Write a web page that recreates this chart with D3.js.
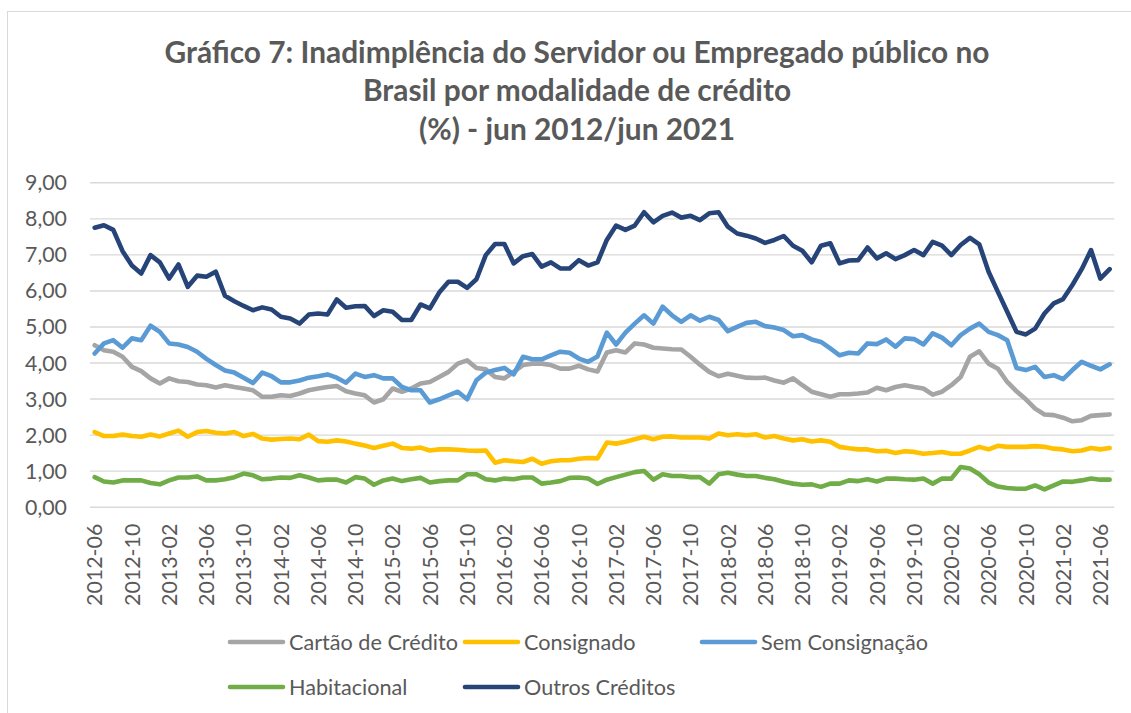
<!DOCTYPE html>
<html><head><meta charset="utf-8">
<script src="https://cdn.jsdelivr.net/npm/d3@7"></script>
<style>body{margin:0;background:#fff}svg{display:block}</style>
</head><body><svg id="c" width="1131" height="713"></svg>
<script>
const categories = [
"2012-06","2012-07","2012-08","2012-09","2012-10","2012-11","2012-12",
"2013-01","2013-02","2013-03","2013-04","2013-05","2013-06","2013-07","2013-08","2013-09","2013-10","2013-11","2013-12",
"2014-01","2014-02","2014-03","2014-04","2014-05","2014-06","2014-07","2014-08","2014-09","2014-10","2014-11","2014-12",
"2015-01","2015-02","2015-03","2015-04","2015-05","2015-06","2015-07","2015-08","2015-09","2015-10","2015-11","2015-12",
"2016-01","2016-02","2016-03","2016-04","2016-05","2016-06","2016-07","2016-08","2016-09","2016-10","2016-11","2016-12",
"2017-01","2017-02","2017-03","2017-04","2017-05","2017-06","2017-07","2017-08","2017-09","2017-10","2017-11","2017-12",
"2018-01","2018-02","2018-03","2018-04","2018-05","2018-06","2018-07","2018-08","2018-09","2018-10","2018-11","2018-12",
"2019-01","2019-02","2019-03","2019-04","2019-05","2019-06","2019-07","2019-08","2019-09","2019-10","2019-11","2019-12",
"2020-01","2020-02","2020-03","2020-04","2020-05","2020-06","2020-07","2020-08","2020-09","2020-10","2020-11","2020-12",
"2021-01","2021-02","2021-03","2021-04","2021-05","2021-06","2021-07"];

const tickLabels = ["2012-06","2012-10","2013-02","2013-06","2013-10","2014-02","2014-06","2014-10",
"2015-02","2015-06","2015-10","2016-02","2016-06","2016-10","2017-02","2017-06","2017-10","2018-02",
"2018-06","2018-10","2019-02","2019-06","2019-10","2020-02","2020-06","2020-10","2021-02","2021-06"];

const yTicks = [0,1,2,3,4,5,6,7,8,9];

const titleLines = ["Gráfico 7: Inadimplência do Servidor ou Empregado público no",
"Brasil por modalidade de crédito","(%) - jun 2012/jun 2021"];

const seriesNames = ["Cartão de Crédito","Consignado","Sem Consignação","Habitacional","Outros Créditos"];

const cartao = [4.48,4.34,4.30,4.16,3.88,3.76,3.56,3.42,3.56,3.48,3.46,3.39,3.37,3.31,3.37,3.32,3.28,3.23,3.05,3.05,
3.09,3.07,3.14,3.23,3.28,3.32,3.35,3.20,3.14,3.09,2.89,2.98,3.28,3.19,3.28,3.42,3.46,3.60,3.74,3.97,
4.06,3.85,3.81,3.60,3.56,3.74,3.93,3.97,3.97,3.93,3.83,3.83,3.91,3.81,3.75,4.28,4.34,4.28,4.53,4.50,
4.41,4.39,4.37,4.36,4.16,3.94,3.74,3.62,3.69,3.63,3.58,3.57,3.58,3.50,3.44,3.56,3.37,3.19,3.12,3.05,
3.12,3.12,3.14,3.17,3.30,3.23,3.32,3.37,3.32,3.28,3.11,3.19,3.37,3.60,4.16,4.31,3.97,3.83,3.46,3.20,
2.98,2.72,2.56,2.54,2.47,2.37,2.40,2.52,2.54,2.56];

const consignado = [2.07,1.96,1.96,2.00,1.96,1.94,2.00,1.95,2.03,2.11,1.94,2.07,2.10,2.05,2.03,2.07,1.96,2.02,1.89,1.86,
1.88,1.89,1.87,2.00,1.82,1.80,1.84,1.81,1.75,1.70,1.63,1.69,1.75,1.63,1.61,1.64,1.56,1.59,1.59,1.58,
1.56,1.55,1.56,1.22,1.29,1.26,1.24,1.33,1.19,1.26,1.29,1.29,1.33,1.35,1.34,1.78,1.75,1.80,1.87,1.94,
1.87,1.94,1.95,1.92,1.92,1.92,1.89,2.03,1.98,2.01,1.98,2.01,1.92,1.96,1.89,1.84,1.87,1.81,1.84,1.80,
1.66,1.62,1.59,1.59,1.54,1.55,1.49,1.54,1.52,1.47,1.49,1.52,1.47,1.47,1.56,1.66,1.59,1.69,1.66,1.66,
1.66,1.68,1.66,1.61,1.59,1.54,1.56,1.63,1.59,1.63];

const semConsignacao = [4.25,4.53,4.62,4.41,4.67,4.62,5.02,4.85,4.53,4.50,4.43,4.30,4.10,3.93,3.78,3.72,3.58,3.43,3.72,3.62,
3.45,3.45,3.50,3.58,3.62,3.67,3.58,3.44,3.69,3.60,3.65,3.56,3.56,3.32,3.23,3.23,2.89,2.98,3.09,3.19,
2.98,3.51,3.72,3.79,3.85,3.67,4.16,4.09,4.09,4.20,4.30,4.27,4.11,4.02,4.17,4.83,4.50,4.83,5.08,5.31,
5.08,5.55,5.31,5.13,5.31,5.16,5.27,5.18,4.87,4.99,5.10,5.13,5.01,4.97,4.90,4.73,4.76,4.64,4.57,4.39,
4.20,4.27,4.25,4.53,4.51,4.64,4.44,4.67,4.65,4.50,4.81,4.69,4.48,4.76,4.94,5.08,4.85,4.76,4.62,3.85,
3.79,3.88,3.60,3.65,3.54,3.79,4.02,3.91,3.81,3.95];

const habitacional = [0.82,0.70,0.67,0.73,0.73,0.73,0.66,0.62,0.73,0.81,0.81,0.84,0.73,0.73,0.76,0.82,0.92,0.87,0.76,0.78,
0.81,0.80,0.87,0.81,0.73,0.75,0.75,0.67,0.82,0.78,0.61,0.73,0.78,0.71,0.76,0.80,0.67,0.71,0.73,0.73,
0.90,0.90,0.76,0.73,0.78,0.76,0.81,0.81,0.64,0.67,0.71,0.80,0.81,0.78,0.63,0.75,0.82,0.89,0.96,0.99,
0.75,0.90,0.85,0.85,0.82,0.82,0.64,0.90,0.94,0.89,0.85,0.85,0.80,0.76,0.69,0.64,0.61,0.62,0.55,0.64,
0.64,0.73,0.71,0.76,0.70,0.78,0.78,0.76,0.75,0.78,0.64,0.78,0.78,1.10,1.06,0.90,0.67,0.56,0.52,0.50,
0.50,0.59,0.48,0.59,0.70,0.69,0.73,0.78,0.75,0.75];

const outros = [7.74,7.81,7.68,7.09,6.69,6.47,6.98,6.78,6.33,6.72,6.10,6.41,6.38,6.52,5.85,5.70,5.57,5.45,5.53,5.47,
5.27,5.22,5.08,5.33,5.36,5.33,5.75,5.52,5.56,5.57,5.29,5.45,5.41,5.18,5.18,5.61,5.50,5.94,6.24,6.24,
6.07,6.31,6.98,7.29,7.29,6.75,6.95,7.01,6.66,6.78,6.61,6.61,6.84,6.69,6.78,7.40,7.80,7.68,7.80,8.17,
7.89,8.07,8.16,8.02,8.07,7.95,8.14,8.17,7.77,7.58,7.52,7.44,7.32,7.40,7.51,7.24,7.10,6.78,7.24,7.31,
6.75,6.83,6.84,7.19,6.89,7.03,6.87,6.98,7.12,6.98,7.35,7.24,6.98,7.26,7.46,7.28,6.52,5.96,5.41,4.85,
4.78,4.94,5.36,5.64,5.76,6.15,6.59,7.12,6.33,6.59];

const seriesColors = ["#A5A5A5","#FFC000","#5B9BD5","#70AD47","#264478"];
const seriesValues = [cartao, consignado, semConsignacao, habitacional, outros];

const svg = d3.select("#c");
const FONT = "Lato, 'Open Sans', sans-serif";
const TXT = "#595959";

svg.append("rect").attr("x",0).attr("y",0).attr("width",1131).attr("height",713).attr("fill","#fff");
svg.append("rect").attr("x",7.5).attr("y",11.5).attr("width",1140).attr("height",720)
  .attr("fill","none").attr("stroke","#d9d9d9").attr("stroke-width",1);

const plotL = 90, plotR = 1114.3, plotT = 182.3, plotB = 506.7;
const x = d3.scaleBand().domain(categories).range([plotL, plotR]).paddingInner(0).paddingOuter(0);
const y = d3.scaleLinear().domain([0, 9]).range([plotB, plotT]);
const cx = c => x(c) + x.bandwidth() / 2;

function fit(sel, target) {
  const w = sel.node().getComputedTextLength();
  const fs = parseFloat(sel.attr("font-size"));
  return fs * target / w;
}

// title
const tg = svg.append("g");
const tBase = [63, 101, 140];
const tLines = titleLines.map((t, i) => tg.append("text").attr("x", 577).attr("y", tBase[i])
  .attr("text-anchor", "middle").attr("font-family", FONT).attr("font-weight", "bold")
  .attr("font-size", 24).attr("fill", TXT).text(t));
const tfs = fit(tLines[0], 825);
tLines.forEach(s => s.attr("font-size", tfs));

// gridlines via axis
const yAxis = d3.axisLeft(y).tickValues(yTicks).tickSize(-(plotR - plotL))
  .tickFormat(d => d3.format(".2f")(d).replace(".", ","));
const ya = svg.append("g").attr("transform", `translate(${plotL},0)`).call(yAxis);
ya.select(".domain").remove();
ya.selectAll(".tick line").attr("stroke", "#d9d9d9").attr("stroke-width", 1.4);
ya.selectAll(".tick text").attr("font-family", FONT).attr("fill", TXT).attr("font-size", 20)
  .attr("x", -23).attr("dy", "0.35em");
const yl = ya.selectAll(".tick text").filter(d => d === 9);
const yfs = fit(yl, 42);
ya.selectAll(".tick text").attr("font-size", yfs);

// x axis labels
const xAxis = d3.axisBottom(x).tickValues(tickLabels).tickSize(0);
const xa = svg.append("g").attr("transform", `translate(0,${plotB})`).call(xAxis);
xa.select(".domain").remove();
xa.selectAll(".tick text").attr("font-family", FONT).attr("fill", TXT).attr("font-size", yfs)
  .attr("text-anchor", "end").attr("transform", "rotate(-90)")
  .attr("x", -17).attr("y", 0).attr("dy", "0.36em");

// lines
const line = d3.line().x((d, i) => cx(categories[i])).y(d => y(d));
seriesValues.forEach((vals, s) => {
  svg.append("path").datum(vals).attr("d", line).attr("fill", "none")
    .attr("stroke", seriesColors[s]).attr("stroke-width", 4.6)
    .attr("stroke-linejoin", "round").attr("stroke-linecap", "round");
});

// legend
const legPos = [[228,642],[463,642],[700,642],[228,687],[463,687]];
const lg = svg.append("g");
let lfs = 20;
seriesNames.forEach((n, i) => {
  const [lx, ly] = legPos[i];
  lg.append("line").attr("x1", lx + 2).attr("x2", lx + 55).attr("y1", ly).attr("y2", ly)
    .attr("stroke", seriesColors[i]).attr("stroke-width", 4.6).attr("stroke-linecap", "round");
  const t = lg.append("text").attr("x", lx + 61).attr("y", ly).attr("dy", "0.35em")
    .attr("font-family", FONT).attr("fill", TXT).attr("font-size", lfs).text(n);
  if (i === 0) lfs = fit(t, 169);
});
lg.selectAll("text").attr("font-size", lfs);
</script></body></html>
